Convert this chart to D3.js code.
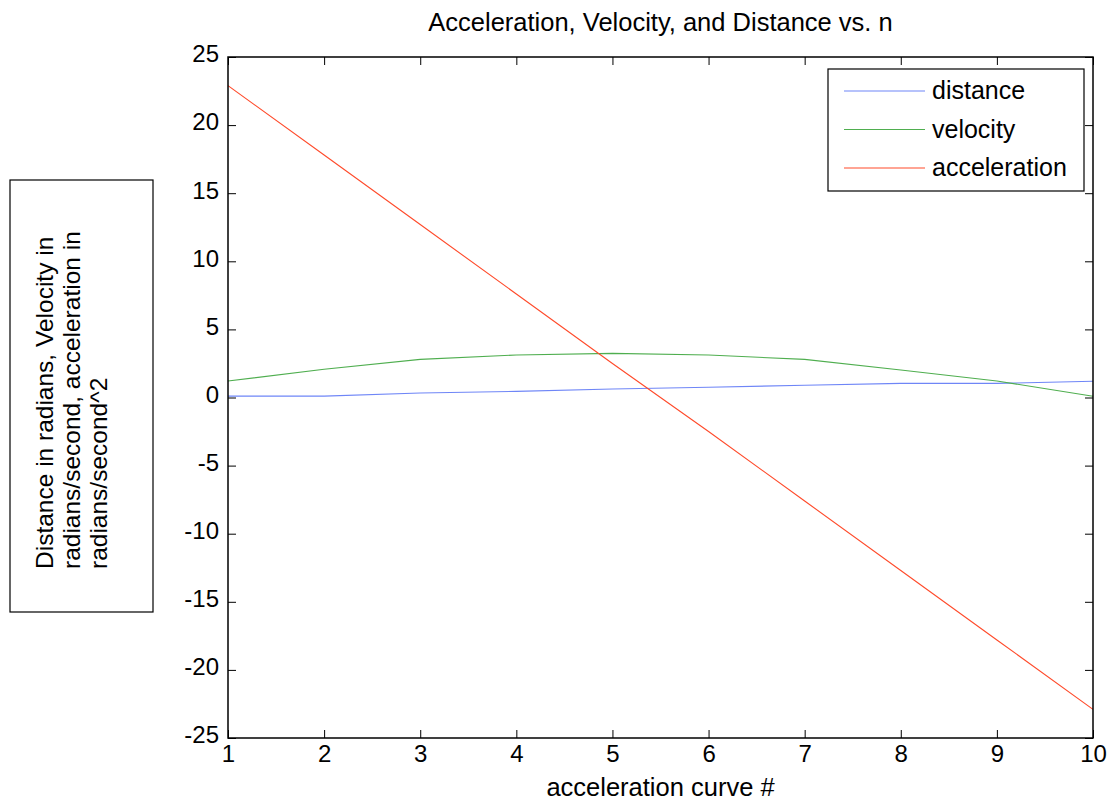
<!DOCTYPE html>
<html>
<head>
<meta charset="utf-8">
<script src="https://cdn.jsdelivr.net/npm/d3@7"></script>
<style>
  body { margin: 0; background: #fff; }
  svg text { font-family: "Liberation Sans", Arial, sans-serif; fill: #000; }
</style>
</head>
<body>
<div id="chart"></div>
<script>
// Data
var nValues = [1, 2, 3, 4, 5, 6, 7, 8, 9, 10];
var distance = [0.1, 0.1, 0.33, 0.45, 0.62, 0.75, 0.9, 1.04, 1.04, 1.19];
var velocity = [1.21, 2.07, 2.8, 3.12, 3.24, 3.12, 2.8, 2.02, 1.21, 0.09];
var acceleration = [22.9, 17.8, 12.7, 7.6, 2.5, -2.5, -7.6, -12.7, -17.8, -22.9];
var xTicks = [1, 2, 3, 4, 5, 6, 7, 8, 9, 10];
var yTicks = [-25, -20, -15, -10, -5, 0, 5, 10, 15, 20, 25];
var seriesNames = ["distance", "velocity", "acceleration"];

let width = 1111;
let height = 802;

let paddingLeft = 228;
let paddingRight = 18;
let paddingTop = 57;
let paddingBottom = 64;

let plotWidth = width - paddingLeft - paddingRight;
let plotHeight = height - paddingTop - paddingBottom;

var colors = ["#6f86f7", "#4fae4f", "#ff4a2a"];

var svg = d3.select("#chart")
  .append("svg")
  .attr("width", width)
  .attr("height", height);

let xScale = d3.scaleLinear().domain([1, 10]).range([0, plotWidth]);
let yScale = d3.scaleLinear().domain([-25, 25]).range([plotHeight, 0]);

let plot = svg.append("g")
  .attr("transform", "translate(" + paddingLeft + "," + paddingTop + ")");

// plain hyphen for negatives, like the original
let numFmt = d => String(d);

// Axes (MATLAB style ticks pointing inward on all four sides)
let axisStyle = function (g) {
  g.select(".domain").remove();
  g.selectAll("line").style("stroke", "#000").style("stroke-width", 1);
  g.selectAll("text").style("font-size", "24px").style("font-family", "Liberation Sans, Arial, sans-serif");
};

plot.append("g")
  .attr("transform", "translate(0," + plotHeight + ")")
  .call(d3.axisBottom(xScale).tickValues(xTicks).tickFormat(numFmt).tickSizeInner(-8).tickSizeOuter(0).tickPadding(7))
  .call(axisStyle);

plot.append("g")
  .call(d3.axisTop(xScale).tickValues(xTicks).tickFormat("").tickSizeInner(-8).tickSizeOuter(0))
  .call(axisStyle);

plot.append("g")
  .call(d3.axisLeft(yScale).tickValues(yTicks).tickFormat(numFmt).tickSizeInner(-8).tickSizeOuter(0).tickPadding(9))
  .call(axisStyle)
  .call(g => g.selectAll("text").attr("dy", "0.2em"));

plot.append("g")
  .attr("transform", "translate(" + plotWidth + ",0)")
  .call(d3.axisRight(yScale).tickValues(yTicks).tickFormat("").tickSizeInner(-8).tickSizeOuter(0))
  .call(axisStyle);

// Lines
let allSeries = [distance, velocity, acceleration];
let lineGen = d3.line()
  .x((d, i) => xScale(nValues[i]))
  .y(d => yScale(d));

allSeries.forEach(function (s, k) {
  plot.append("path")
    .datum(s)
    .attr("d", lineGen)
    .style("fill", "none")
    .style("stroke", colors[k])
    .style("stroke-width", 1.1);
});

// Box
plot.append("rect")
  .attr("width", plotWidth)
  .attr("height", plotHeight)
  .style("fill", "none")
  .style("stroke", "#000")
  .style("stroke-width", 1.5);

// Title
svg.append("text")
  .attr("x", paddingLeft + plotWidth / 2)
  .attr("y", 31)
  .attr("text-anchor", "middle")
  .style("font-size", "25.5px")
  .text("Acceleration, Velocity, and Distance vs. n");

// X label
svg.append("text")
  .attr("x", paddingLeft + plotWidth / 2)
  .attr("y", 796)
  .attr("text-anchor", "middle")
  .style("font-size", "25.5px")
  .text("acceleration curve #");

// Y label in a box
svg.append("rect")
  .attr("x", 10)
  .attr("y", 180)
  .attr("width", 143)
  .attr("height", 432)
  .style("fill", "#fff")
  .style("stroke", "#000")
  .style("stroke-width", 1.2);

let yLabelLines = ["Distance in radians, Velocity in", "radians/second, acceleration in", "radians/second^2"];
let yLab = svg.append("text")
  .attr("transform", "translate(53,569) rotate(-90)")
  .style("font-size", "24.5px");
yLabelLines.forEach(function (t, i) {
  yLab.append("tspan")
    .attr("x", 0)
    .attr("dy", i === 0 ? 0 : 27)
    .text(t);
});

// Legend
let legend = svg.append("g").attr("transform", "translate(828,69)");
legend.append("rect")
  .attr("width", 256)
  .attr("height", 122)
  .style("fill", "#fff")
  .style("stroke", "#000")
  .style("stroke-width", 1.2);

seriesNames.forEach(function (name, i) {
  let y = 22 + i * 38.5;
  legend.append("line")
    .attr("x1", 16).attr("x2", 97)
    .attr("y1", y).attr("y2", y)
    .style("stroke", colors[i])
    .style("stroke-width", 1.2);
  legend.append("text")
    .attr("x", 104)
    .attr("y", y + 8)
    .style("font-size", "25px")
    .text(name);
});
</script>
</body>
</html>
